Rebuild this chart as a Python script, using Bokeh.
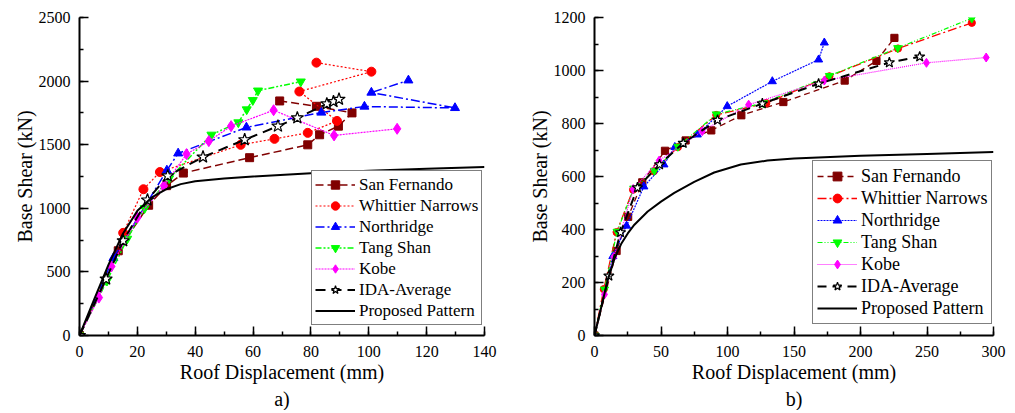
from bokeh.plotting import figure
from bokeh.models import Range1d, SingleIntervalTicker, Legend, LegendItem, Title
from bokeh.layouts import row
from bokeh.embed import file_html
from bokeh.resources import INLINE

FONT = "Liberation Serif"

# ---------------- data: panel a ----------------
sf_a_x = [0, 13.4, 23.9, 30.1, 35.9, 58.8, 78.9, 83.0, 89.5, 94.2, 81.9, 69.2]
sf_a_y = [0, 666, 1024, 1178, 1277, 1398, 1499, 1578, 1646, 1750, 1802, 1844]
wn_a_x = [0, 15.1, 22.1, 27.8, 55.7, 67.4, 78.9, 89.0, 76.0, 100.9, 81.9]
wn_a_y = [0, 807, 1150, 1285, 1499, 1546, 1593, 1687, 1918, 2074, 2145]
nr_a_x = [0, 11.7, 30.2, 34.1, 57.7, 83.6, 98.5, 129.8, 100.9, 113.7]
nr_a_y = [0, 609, 1298, 1432, 1636, 1753, 1800, 1789, 1910, 2006]
ts_a_x = [0, 9.5, 16.5, 22.5, 31.0, 45.6, 54.9, 57.8, 59.9, 61.7, 76.5]
ts_a_y = [0, 430, 760, 1000, 1235, 1578, 1675, 1777, 1850, 1925, 1996]
kb_a_x = [0, 6.7, 11.0, 20.0, 29.2, 37.0, 44.7, 52.4, 67.1, 88.0, 109.8]
kb_a_y = [0, 298, 543, 927, 1178, 1426, 1528, 1646, 1771, 1573, 1625]
ida_a_x = [0, 9.2, 15.1, 23.5, 30.5, 42.7, 57.1, 68.6, 75.3, 85.5, 87.8, 89.7]
ida_a_y = [0, 444, 745, 1065, 1255, 1403, 1539, 1646, 1711, 1821, 1839, 1857]
pp_a_x = [0, 5, 10, 15, 20, 25, 30, 35, 40, 50, 60, 80, 100, 120, 140]
pp_a_y = [0, 280, 555, 800, 980, 1085, 1150, 1190, 1212, 1234, 1250, 1275, 1295, 1310, 1325]

# ---------------- data: panel b ----------------
sf_b_x = [0, 16.6, 25.3, 35.9, 53.0, 68.5, 87.8, 110.4, 142.0, 188.1, 212.0, 225.5]
sf_b_y = [0, 319, 448, 578, 697, 736, 774, 831, 881, 962, 1036, 1123]
wn_b_x = [0, 7.0, 16.6, 29.0, 44.6, 62.7, 91.6, 129.2, 176.6, 228.2, 283.7]
wn_b_y = [0, 175, 390, 550, 620, 711, 832, 877, 978, 1083, 1180]
nr_b_x = [0, 13.8, 24.1, 37.1, 52.2, 60.4, 77.3, 99.8, 133.7, 168.5, 172.8]
nr_b_y = [0, 299, 414, 562, 645, 711, 758, 865, 959, 1041, 1105]
ts_b_x = [0, 7.5, 17.0, 29.5, 45.0, 62.7, 91.6, 126.9, 176.6, 228.0, 283.7]
ts_b_y = [0, 174, 392, 555, 622, 713, 835, 877, 980, 1085, 1197]
kb_b_x = [0, 7.5, 14.5, 29.1, 48.6, 81.0, 115.9, 172.8, 249.6, 294.5]
kb_b_y = [0, 155, 296, 553, 660, 771, 871, 962, 1029, 1049]
ida_b_x = [0, 10.8, 19.6, 32.3, 48.9, 66.7, 92.5, 126.2, 168.5, 221.7, 244.5]
ida_b_y = [0, 225, 389, 558, 645, 726, 813, 875, 950, 1030, 1052]
pp_b_x = [0, 5, 10, 15, 20, 25, 30, 40, 50, 60, 75, 90, 110, 130, 150, 200, 250, 300]
pp_b_y = [0, 105, 210, 290, 345, 385, 418, 468, 505, 538, 580, 615, 645, 660, 668, 678, 685, 692]

names = ["San Fernando", "Whittier Narrows", "Northridge", "Tang Shan", "Kobe",
         "IDA-Average", "Proposed Pattern"]


def style_axes(p, xint, yint):
    p.xaxis.ticker = SingleIntervalTicker(interval=xint, num_minor_ticks=2)
    p.yaxis.ticker = SingleIntervalTicker(interval=yint, num_minor_ticks=2)
    for ax in (p.xaxis[0], p.yaxis[0]):
        ax.axis_line_color = "black"
        ax.axis_line_width = 2
        ax.major_tick_line_color = "black"
        ax.major_tick_line_width = 1.5
        ax.minor_tick_line_color = "black"
        ax.minor_tick_line_width = 1.5
        ax.major_tick_in = 9
        ax.major_tick_out = 0
        ax.minor_tick_in = 4
        ax.minor_tick_out = 0
        ax.major_label_text_font = FONT
        ax.major_label_text_font_size = "16px"
        ax.major_label_text_color = "black"
        ax.axis_label_text_font = FONT
        ax.axis_label_text_font_size = "20px"
        ax.axis_label_text_font_style = "normal"
        ax.axis_label_text_color = "black"
    p.xaxis.major_label_standoff = 10
    p.xaxis.axis_label_standoff = 1
    p.yaxis.major_label_standoff = 9
    p.yaxis.axis_label_standoff = 0
    p.xgrid.grid_line_color = None
    p.ygrid.grid_line_color = None
    p.outline_line_color = None


def make_panel(series, styles, xmax, ymax, xint, yint, width, borders, letter,
               leg_loc, leg_font, leg_h, leg_pad, msize):
    left, right, top, bottom = borders
    p = figure(width=width, height=410, output_backend="svg", toolbar_location=None,
               x_range=Range1d(0, xmax), y_range=Range1d(0, ymax),
               min_border_left=left, min_border_right=right,
               min_border_top=top, min_border_bottom=bottom,
               x_axis_label="Roof Displacement (mm)", y_axis_label="Base Shear (kN)")
    style_axes(p, xint, yint)
    items = []
    for (xs, ys), name, st in zip(series, names, styles):
        color, dash, lw, marker, ms = st
        rs = [p.line(xs, ys, line_color=color, line_dash=dash, line_width=lw)]
        if marker is not None:
            if marker == "star":
                rs.append(p.scatter(xs, ys, marker="star", size=ms * msize,
                                    fill_color="white", line_color="black", line_width=1.2))
            else:
                rs.append(p.scatter(xs, ys, marker=marker, size=ms * msize,
                                    fill_color=color, line_color=color))
        items.append(LegendItem(label=name, renderers=rs))
    leg = Legend(items=items, location=leg_loc, orientation="vertical")
    leg.label_text_font = FONT
    leg.label_text_font_size = leg_font
    leg.label_text_color = "black"
    leg.glyph_width = 40
    leg.glyph_height = leg_h
    leg.label_height = leg_h
    leg.label_standoff = 4
    leg.spacing = 0
    leg.padding = leg_pad
    leg.margin = 0
    leg.border_line_color = "black"
    leg.border_line_width = 1
    leg.background_fill_color = "white"
    leg.background_fill_alpha = 1
    p.add_layout(leg)
    t = Title(text=letter, align="center", text_font=FONT, text_font_size="20px",
              text_font_style="normal", text_color="black", offset=0, standoff=0)
    p.add_layout(t, "below")
    return p


styles_a = [
    ("#800000", "8 4", 1.5, "square", 8),
    ("#ff0000", "2 2", 1.2, "circle", 9),
    ("#0000ff", "9 3 2 3", 1.5, "triangle", 9),
    ("#00ff00", "6 2 2 2 2 2", 1.5, "inverted_triangle", 9),
    ("#ff00ff", "2 1", 1.2, "diamond", 11),
    ("#000000", "10 6", 2, "star", 13),
    ("#000000", "solid", 2, None, 0),
]
styles_b = [
    ("#800000", "6 4", 1.3, "square", 8),
    ("#ff0000", "9 3 2 3", 1.3, "circle", 8),
    ("#0000ff", "2 1", 1.2, "triangle", 9),
    ("#00ff00", "5 2 1 2 1 2", 1.2, "inverted_triangle", 9),
    ("#ff00ff", "1 1", 1.2, "diamond", 10),
    ("#000000", "9 6", 2, "star", 12),
    ("#000000", "solid", 2, None, 0),
]

series_a = [(sf_a_x, sf_a_y), (wn_a_x, wn_a_y), (nr_a_x, nr_a_y), (ts_a_x, ts_a_y),
            (kb_a_x, kb_a_y), (ida_a_x, ida_a_y), (pp_a_x, pp_a_y)]
series_b = [(sf_b_x, sf_b_y), (wn_b_x, wn_b_y), (nr_b_x, nr_b_y), (ts_b_x, ts_b_y),
            (kb_b_x, kb_b_y), (ida_b_x, ida_b_y), (pp_b_x, pp_b_y)]

pa = make_panel(series_a, styles_a, 140, 2500, 20, 500, 513, (79, 29, 16, 75), "a)",
                (232, 10), "17px", 21, 3, 1.0)
pb = make_panel(series_b, styles_b, 300, 1200, 50, 200, 502, (81, 22, 17, 75), "b)",
                (218, 11), "18px", 22, 4, 0.9)

layout = row(pa, pb, spacing=0)
open("out.html", "w").write(file_html(layout, INLINE))
